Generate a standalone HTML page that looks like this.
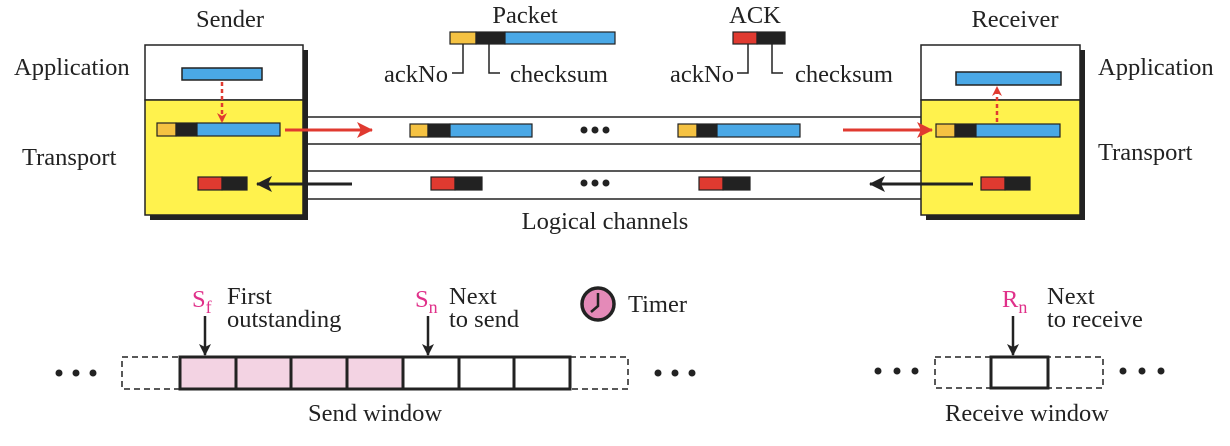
<!DOCTYPE html>
<html><head><meta charset="utf-8"><style>
html,body{margin:0;padding:0;background:#fff;}
svg{display:block;}
text{font-family:"Liberation Serif",serif;fill:#222;}
</style></head><body>
<svg width="1230" height="446" viewBox="0 0 1230 446" xmlns="http://www.w3.org/2000/svg">
<defs>
<marker id="ar" markerWidth="10" markerHeight="10" refX="9" refY="5" orient="auto" markerUnits="userSpaceOnUse"><path d="M0,0 L10,5 L0,10 L3,5 Z" fill="#e03a30"/></marker>
<marker id="ar2" markerWidth="16" markerHeight="16" refX="15" refY="8" orient="auto" markerUnits="userSpaceOnUse"><path d="M0,0 L16,8 L0,16 L4,8 Z" fill="#e03a30"/></marker>
<marker id="ab" markerWidth="16" markerHeight="16" refX="15" refY="8" orient="auto" markerUnits="userSpaceOnUse"><path d="M0,0 L16,8 L0,16 L4,8 Z" fill="#222"/></marker>
<marker id="ak" markerWidth="12" markerHeight="12" refX="11" refY="6" orient="auto" markerUnits="userSpaceOnUse"><path d="M0,0 L12,6 L0,12 L3,6 Z" fill="#222"/></marker>
</defs>
<g font-size="24.5">
<text x="230" y="27" text-anchor="middle">Sender</text>
<text x="1015" y="27" text-anchor="middle">Receiver</text>
<text x="525" y="23" text-anchor="middle">Packet</text>
<text x="755" y="23" text-anchor="middle">ACK</text>
<text x="14" y="75">Application</text>
<text x="1098" y="75">Application</text>
<text x="22" y="165">Transport</text>
<text x="1098" y="160">Transport</text>
<text x="605" y="229" text-anchor="middle">Logical channels</text>
<text x="448" y="82" text-anchor="end">ackNo</text>
<text x="510" y="82">checksum</text>
<text x="734" y="82" text-anchor="end">ackNo</text>
<text x="795" y="82">checksum</text>
</g>
<g stroke="#222" stroke-width="1.5">
<line x1="303" y1="117" x2="921" y2="117"/><line x1="303" y1="144" x2="921" y2="144"/>
<line x1="303" y1="171" x2="921" y2="171"/><line x1="303" y1="199" x2="921" y2="199"/>
</g>
<rect x="150" y="50" width="158" height="170" fill="#222"/>
<rect x="145" y="45" width="158" height="55" fill="#fff" stroke="#222" stroke-width="1.5"/>
<rect x="145" y="100" width="158" height="115" fill="#fff24d" stroke="#222" stroke-width="1.5"/>
<rect x="926" y="50" width="159" height="170" fill="#222"/>
<rect x="921" y="45" width="159" height="55" fill="#fff" stroke="#222" stroke-width="1.5"/>
<rect x="921" y="100" width="159" height="115" fill="#fff24d" stroke="#222" stroke-width="1.5"/>
<g stroke="#222" stroke-width="1.5">
<rect x="182" y="68" width="80" height="12" fill="#4aa8e6"/>
<rect x="956" y="72" width="105" height="13" fill="#4aa8e6"/>
</g>
<g stroke="#222" stroke-width="1.2">
<rect x="157" y="123" width="19" height="13" fill="#f5c242"/><rect x="176" y="123" width="21" height="13" fill="#222"/><rect x="197" y="123" width="83" height="13" fill="#4aa8e6"/>
<rect x="410" y="124" width="18" height="13" fill="#f5c242"/><rect x="428" y="124" width="22" height="13" fill="#222"/><rect x="450" y="124" width="82" height="13" fill="#4aa8e6"/>
<rect x="678" y="124" width="19" height="13" fill="#f5c242"/><rect x="697" y="124" width="20" height="13" fill="#222"/><rect x="717" y="124" width="83" height="13" fill="#4aa8e6"/>
<rect x="936" y="124" width="19" height="13" fill="#f5c242"/><rect x="955" y="124" width="21" height="13" fill="#222"/><rect x="976" y="124" width="84" height="13" fill="#4aa8e6"/>
<rect x="450" y="32" width="26" height="12" fill="#f5c242"/><rect x="476" y="32" width="29" height="12" fill="#222"/><rect x="505" y="32" width="110" height="12" fill="#4aa8e6"/>
<rect x="733" y="32" width="24" height="12" fill="#e03a30"/><rect x="757" y="32" width="28" height="12" fill="#222"/>
<rect x="198" y="177" width="24" height="13" fill="#e03a30"/><rect x="222" y="177" width="25" height="13" fill="#222"/>
<rect x="431" y="177" width="24" height="13" fill="#e03a30"/><rect x="455" y="177" width="27" height="13" fill="#222"/>
<rect x="699" y="177" width="24" height="13" fill="#e03a30"/><rect x="723" y="177" width="27" height="13" fill="#222"/>
<rect x="981" y="177" width="24" height="13" fill="#e03a30"/><rect x="1005" y="177" width="25" height="13" fill="#222"/>
</g>
<g stroke="#222" stroke-width="1.5" fill="none">
<polyline points="463,44 463,73 452,73"/><polyline points="489,44 489,73 500,73"/>
<polyline points="748,44 748,73 737,73"/><polyline points="772,44 772,73 783,73"/>
</g>
<g stroke="#e03a30" fill="none">
<line x1="285" y1="130" x2="372" y2="130" stroke-width="3" marker-end="url(#ar2)"/>
<line x1="843" y1="130" x2="932" y2="130" stroke-width="3" marker-end="url(#ar2)"/>
<line x1="222" y1="82" x2="222" y2="122" stroke-width="2.5" stroke-dasharray="4,3" marker-end="url(#ar)"/>
<line x1="997" y1="122" x2="997" y2="87" stroke-width="2.5" stroke-dasharray="4,3" marker-end="url(#ar)"/>
</g>
<g stroke="#222" stroke-width="3">
<line x1="352" y1="184" x2="257" y2="184" marker-end="url(#ab)"/>
<line x1="973" y1="184" x2="870" y2="184" marker-end="url(#ab)"/>
</g>
<g fill="#222">
<circle cx="584" cy="130" r="3.5"/><circle cx="595" cy="130" r="3.5"/><circle cx="606" cy="130" r="3.5"/>
<circle cx="584" cy="183" r="3.5"/><circle cx="595" cy="183" r="3.5"/><circle cx="606" cy="183" r="3.5"/>
<circle cx="59" cy="373" r="3.5"/><circle cx="76" cy="373" r="3.5"/><circle cx="93" cy="373" r="3.5"/>
<circle cx="658" cy="373" r="3.5"/><circle cx="675" cy="373" r="3.5"/><circle cx="692" cy="373" r="3.5"/>
<circle cx="878" cy="371" r="3.5"/><circle cx="897" cy="371" r="3.5"/><circle cx="915" cy="371" r="3.5"/>
<circle cx="1123" cy="371" r="3.5"/><circle cx="1142" cy="371" r="3.5"/><circle cx="1161" cy="371" r="3.5"/>
</g>
<g stroke="#222" stroke-width="1.5" stroke-dasharray="6,4" fill="none">
<rect x="122" y="357" width="58" height="32"/><rect x="570" y="357" width="58" height="32"/>
<rect x="935" y="357" width="168" height="31"/>
</g>
<rect x="180" y="357" width="223" height="32" fill="#f3d3e3"/>
<rect x="403" y="357" width="167" height="32" fill="#fff"/>
<g stroke="#222" stroke-width="3" fill="none">
<rect x="180" y="357" width="390" height="32"/>
<line x1="236" y1="357" x2="236" y2="389"/><line x1="291" y1="357" x2="291" y2="389"/>
<line x1="347" y1="357" x2="347" y2="389"/><line x1="403" y1="357" x2="403" y2="389"/>
<line x1="459" y1="357" x2="459" y2="389"/><line x1="514" y1="357" x2="514" y2="389"/>
<rect x="991" y="357" width="57" height="31" fill="#fff"/>
</g>
<g stroke="#222" stroke-width="2.5">
<line x1="205" y1="316" x2="205" y2="355" marker-end="url(#ak)"/>
<line x1="428" y1="316" x2="428" y2="355" marker-end="url(#ak)"/>
<line x1="1013" y1="316" x2="1013" y2="355" marker-end="url(#ak)"/>
</g>
<circle cx="598" cy="304" r="16" fill="#e48ab8" stroke="#222" stroke-width="3.5"/>
<polyline points="598,293 598,306 591,312" stroke="#222" stroke-width="2.5" fill="none"/>
<g font-size="24.5">
<text x="192" y="307" style="fill:#e0308a">S<tspan font-size="18" dy="6">f</tspan></text>
<text x="227" y="304">First</text><text x="227" y="327">outstanding</text>
<text x="415" y="307" style="fill:#e0308a">S<tspan font-size="18" dy="6">n</tspan></text>
<text x="449" y="304">Next</text><text x="449" y="327">to send</text>
<text x="628" y="312">Timer</text>
<text x="375" y="421" text-anchor="middle">Send window</text>
<text x="1002" y="307" style="fill:#e0308a">R<tspan font-size="18" dy="6">n</tspan></text>
<text x="1047" y="304">Next</text><text x="1047" y="327">to receive</text>
<text x="1027" y="421" text-anchor="middle">Receive window</text>
</g>
</svg>
</body></html>
